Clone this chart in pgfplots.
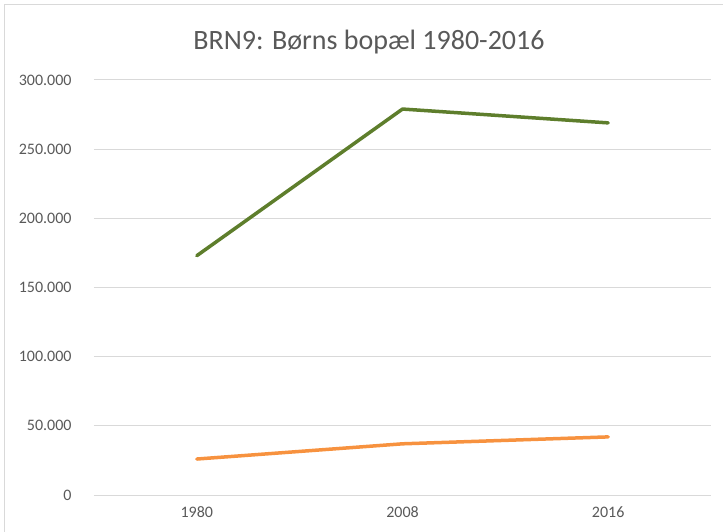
\documentclass[border=0pt]{standalone}
\usepackage{fontspec}
\setmainfont{Carlito}
\usepackage{pgfplots}
\pgfplotsset{compat=1.18}
\definecolor{txt}{HTML}{595959}
\definecolor{gridc}{HTML}{D9D9D9}
\definecolor{grn}{HTML}{5E7E2C}
\definecolor{org}{HTML}{F7923F}
\begin{document}
\begin{tikzpicture}
\useasboundingbox (-94bp,-37bp) rectangle (629bp,495bp);
\draw[gridc, line width=1bp] (-89bp,-37bp) -- (-89bp,490bp) -- (629bp,490bp);
\begin{axis}[
  at={(0,0)}, anchor=south west,
  scale only axis, width=617bp, height=415bp,
  xmin=-0.5, xmax=2.5, ymin=0, ymax=300000,
  scaled y ticks=false,
  xtick={0,1,2}, xticklabels={1980,2008,2016},
  ytick={0,50000,100000,150000,200000,250000,300000},
  yticklabels={0,50.000,100.000,150.000,200.000,250.000,300.000},
  /pgf/number format/assume math mode=true,
  axis line style={draw=none},
  major tick style={draw=none},
  ymajorgrids, grid style={gridc, line width=1bp},
  tick label style={font=\fontsize{16bp}{19bp}\selectfont, text=txt},
  yticklabel style={anchor=east, xshift=-19bp},
  xticklabel style={anchor=north, yshift=-8bp},
  clip=false,
]
\addplot[grn, line width=3.5bp, line cap=round, line join=round] coordinates {(0,173000) (1,279000) (2,269000)};
\addplot[org, line width=3.5bp, line cap=round, line join=round] coordinates {(0,26000) (1,37000) (2,42000)};
\end{axis}
\node[text=txt, font=\fontsize{28bp}{32bp}\selectfont] at (275bp,453bp) {BRN9: Børns bopæl 1980-2016};
\end{tikzpicture}
\end{document}
